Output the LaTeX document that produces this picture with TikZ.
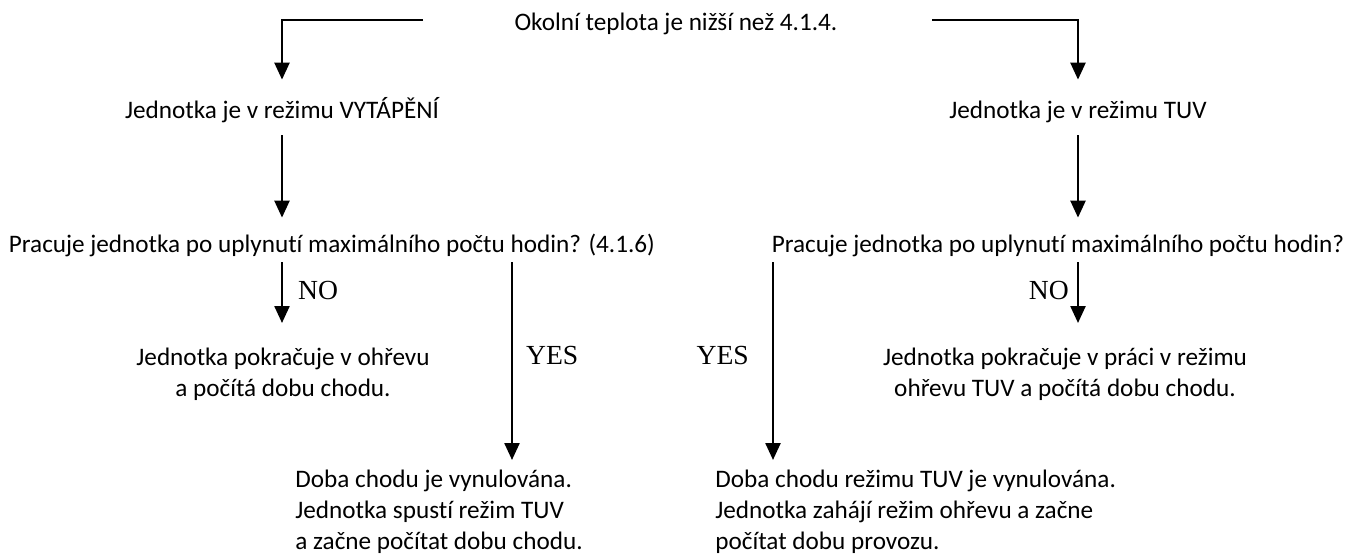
\documentclass[tikz,border=0pt]{standalone}
\usepackage{fontspec}
\setmainfont{Carlito}[Ligatures=NoCommon]
\newfontfamily\answerfont{Liberation Serif}
\usetikzlibrary{arrows.meta}

\tikzset{
  txt/.style={inner sep=0pt, text height=9pt, text depth=3pt,
    font=\fontsize{12.6}{15.5}\selectfont},
  para/.style={inner sep=0pt, font=\fontsize{12.6}{15.5}\selectfont},
  answer/.style={inner sep=0pt, font=\answerfont\fontsize{13.8}{16}\selectfont},
  flow/.style={line width=1.2pt, -{Triangle[width=7.5pt,length=8.5pt]}},
}

\begin{document}
\begin{tikzpicture}[x=0.5pt,y=-0.5pt]
  \useasboundingbox (0,0) rectangle (1355,557);

  \node (ambient) [txt, anchor=base] at (676,30) {Okolní teplota je nižší než 4.1.4.};

  \node (heat) [txt, anchor=base] at (282,118) {Jednotka je v režimu VYTÁPĚNÍ};
  \node (dhw) [txt, anchor=base] at (1078,118) {Jednotka je v režimu TUV};

  \node (askheat) [txt, anchor=base] at (332,252)
    {Pracuje jednotka po uplynutí maximálního počtu hodin? (4.1.6)};
  \node (askdhw) [txt, anchor=base] at (1058,252)
    {Pracuje jednotka po uplynutí maximálního počtu hodin?};

  \node (keepheat) [para, align=center, anchor=north] at (283,348)
    {Jednotka pokračuje v ohřevu\\a počítá dobu chodu.};
  \node (keepdhw) [para, align=center, anchor=north] at (1065,348)
    {Jednotka pokračuje v práci v režimu\\ohřevu TUV a počítá dobu chodu.};

  \node (resetheat) [para, align=left, anchor=north west] at (295,470)
    {Doba chodu je vynulována.\\Jednotka spustí režim TUV\\a začne počítat dobu chodu.};
  \node (resetdhw) [para, align=left, anchor=north west] at (715,470)
    {Doba chodu režimu TUV je vynulována.\\Jednotka zahájí režim ohřevu a začne\\počítat dobu provozu.};

  \coordinate (splitL) at (423,20);
  \coordinate (splitR) at (932,20);

  \draw [flow, shorten >=10pt] (splitL) -| (heat.north);
  \draw [flow, shorten >=10pt] (splitR) -| (dhw.north);

  \draw [flow, shorten <=5.5pt, shorten >=8pt] (heat.south) -- (heat.south |- askheat.north);
  \draw [flow, shorten <=5.5pt, shorten >=8pt] (dhw.south) -- (dhw.south |- askdhw.north);

  % NO branches
  \draw [flow, shorten <=2pt, shorten >=12.5pt] (heat.south |- askheat.south)
    -- node [answer, pos=.36, right=7.5pt] (noheat) {NO} (heat.south |- keepheat.north);
  \draw [flow, shorten <=2pt, shorten >=12.5pt] (dhw.south |- askdhw.south)
    -- node [answer, pos=.36, left=4pt] (nodhw) {NO} (dhw.south |- keepdhw.north);

  % YES branches
  \draw [flow, shorten <=2pt, shorten >=5pt] ([xshift=90pt]askheat.south)
    -- node [answer, pos=.46, right=6.5pt] (yesheat) {YES} ([xshift=90pt]askheat.south |- resetheat.north);
  \draw [flow, shorten <=2pt, shorten >=5pt] ([xshift=-142.5pt]askdhw.south)
    -- node [answer, pos=.46, left=11.5pt] (yesdhw) {YES} ([xshift=-142.5pt]askdhw.south |- resetdhw.north);

\end{tikzpicture}
\end{document}
